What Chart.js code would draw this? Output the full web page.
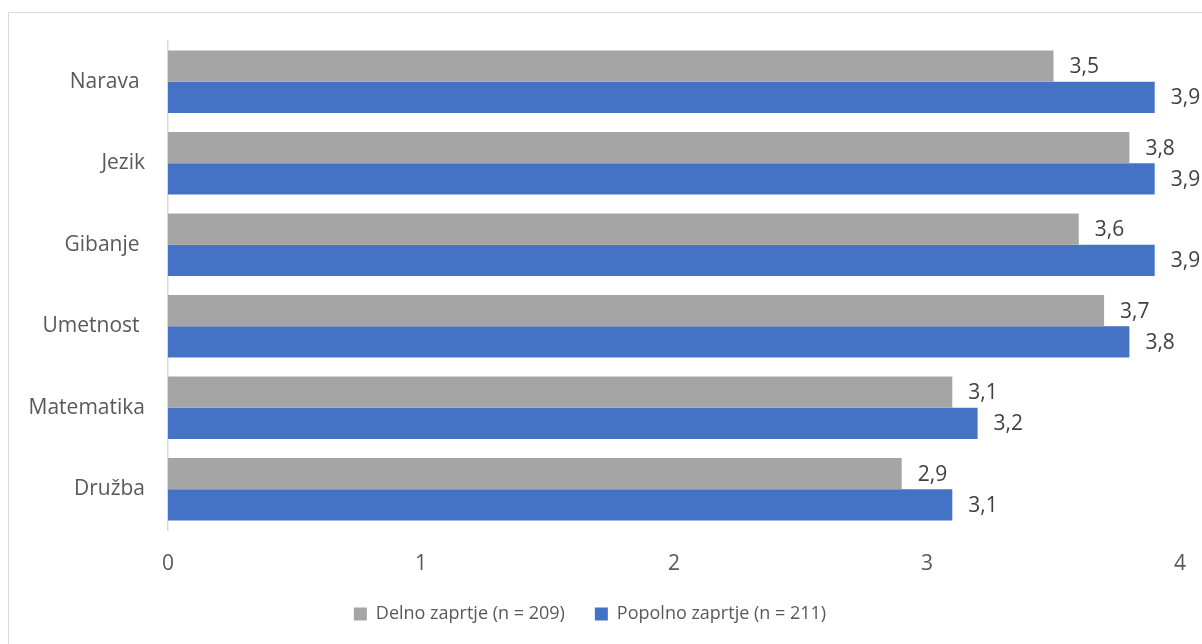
<!DOCTYPE html>
<html>
<head>
<meta charset="utf-8">
<script src="https://cdn.jsdelivr.net/npm/chart.js@4/dist/chart.umd.min.js"></script>
<style>
	html, body { margin: 0; padding: 0; background: #fff; overflow: hidden; }
	#frame { position: absolute; left: 8px; top: 12px; width: 1300px; height: 800px; border: 1.5px solid #d9d9d9; }
	#wrap { position: absolute; left: 0; top: 0; width: 1202px; height: 644px; }
</style>
</head>
<body>
<div id="frame"></div>
<div id="wrap"><canvas id="chart_canvas"></canvas></div>
<script>
const categories = ['Narava ', 'Jezik', 'Gibanje ', 'Umetnost ', 'Matematika', 'Družba'];
const delnoValues = [3.5, 3.8, 3.6, 3.7, 3.1, 2.9];
const popolnoValues = [3.9, 3.9, 3.9, 3.8, 3.2, 3.1];
const seriesNames = ['Delno zaprtje (n = 209)', 'Popolno zaprtje (n = 211)'];
const xTicks = [0, 1, 2, 3, 4];

const fontFamily = '"Open Sans", sans-serif';
const fontSize = 21;

// value labels at the end of each bar, decimal comma like the original
const barLabels = {
	id: 'barLabels',
	afterDatasetsDraw(chart) {
		const ctx = chart.ctx;
		ctx.save();
		ctx.font = `${fontSize}px ${fontFamily}`;
		ctx.fillStyle = '#404040';
		ctx.textAlign = 'left';
		ctx.textBaseline = 'middle';
		chart.data.datasets.forEach((ds, i) => {
			const meta = chart.getDatasetMeta(i);
			meta.data.forEach((bar, j) => {
				const text = ds.data[j].toFixed(1).replace('.', ',');
				ctx.fillText(text, bar.x + 16, bar.y + 1);
			});
		});
		ctx.restore();
	}
};

new Chart(window.chart_canvas.getContext('2d'), {
	type: 'bar',
	data: {
		labels: categories,
		datasets: [
			{ label: seriesNames[0], data: delnoValues, backgroundColor: '#a5a5a5' },
			{ label: seriesNames[1], data: popolnoValues, backgroundColor: '#4472c4' }
		]
	},
	options: {
		indexAxis: 'y',
		responsive: true,
		maintainAspectRatio: false,
		animation: false,
		categoryPercentage: 0.767,
		barPercentage: 1,
		layout: { padding: { top: 41, right: 22, left: 0, bottom: 11 } },
		scales: {
			x: {
				min: 0,
				max: 4,
				afterBuildTicks: scale => { scale.ticks = xTicks.map(v => ({ value: v })); },
				afterFit: scale => {
					scale.height = 45;
					scale.paddingLeft = 0;
					scale.paddingRight = 0;
				},
				grid: { display: false, drawTicks: false },
				border: { display: false },
				ticks: {
					padding: 21,
					color: '#595959',
					font: { family: fontFamily, size: fontSize }
				}
			},
			y: {
				afterFit: scale => { scale.width = 168; },
				grid: { display: false, drawTicks: false },
				border: { display: true, color: '#d9d9d9', width: 1.5 },
				ticks: {
					padding: 23,
					color: '#595959',
					font: { family: fontFamily, size: fontSize }
				}
			}
		},
		plugins: {
			legend: {
				position: 'bottom',
				labels: {
					boxWidth: 13,
					boxHeight: 13,
					padding: 30,
					color: '#595959',
					font: { family: fontFamily, size: 18 }
				}
			},
			tooltip: { enabled: false }
		}
	},
	plugins: [barLabels]
});
</script>
</body>
</html>
